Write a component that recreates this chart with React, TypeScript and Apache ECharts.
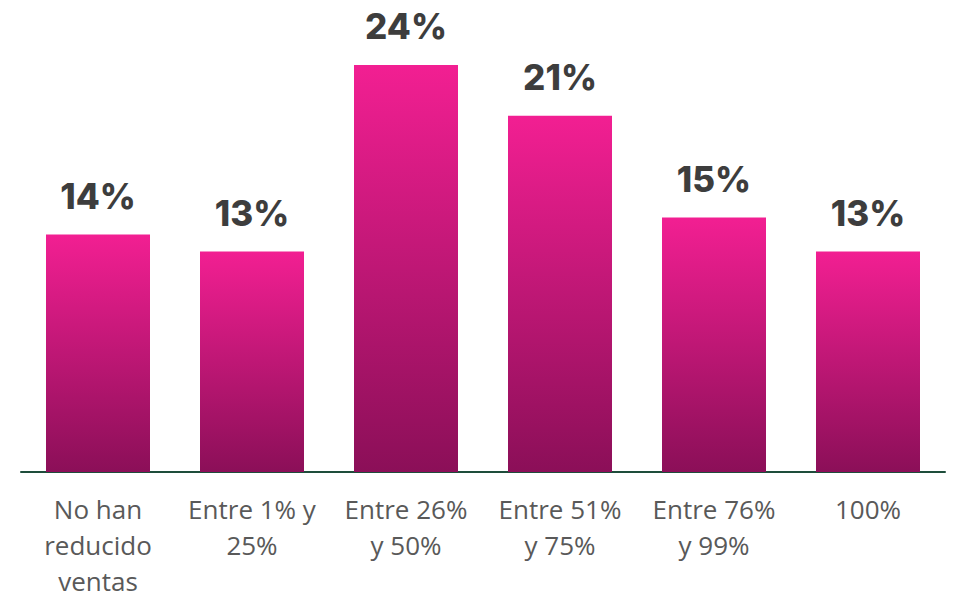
import React, { useEffect, useRef } from "react";
import * as echarts from "echarts";

const categories = [
  "No han\nreducido\nventas",
  "Entre 1% y\n25%",
  "Entre 26%\ny 50%",
  "Entre 51%\ny 75%",
  "Entre 76%\ny 99%",
  "100%",
];
const values = [14, 13, 24, 21, 15, 13];

export default function App() {
  const ref = useRef<HTMLDivElement>(null);
  useEffect(() => {
    if (!ref.current) return;
    const chart = echarts.init(ref.current, undefined, { renderer: "svg" });
    chart.setOption({
      animation: false,
      backgroundColor: "#ffffff",
      grid: {
        left: 21,
        right: 8,
        top: 31,
        bottom: 132,
        containLabel: false,
        outerBoundsMode: "none",
      },
      xAxis: {
        type: "category",
        data: categories,
        axisLine: { show: true, lineStyle: { color: "#1E4D3B", width: 2 } },
        axisTick: { show: false },
        axisLabel: {
          interval: 0,
          margin: 19,
          fontSize: 26,
          lineHeight: 36,
          color: "#595959",
          fontFamily: "'Open Sans', sans-serif",
          verticalAlign: "top",
        },
      },
      yAxis: {
        type: "value",
        min: 0,
        max: 26,
        show: false,
        splitLine: { show: false },
      },
      series: [
        {
          type: "bar",
          data: values,
          barWidth: 104,
          itemStyle: {
            color: new echarts.graphic.LinearGradient(0, 0, 0, 1, [
              { offset: 0, color: "#F21F92" },
              { offset: 1, color: "#8B0F58" },
            ]),
          },
          label: {
            show: true,
            position: "top",
            distance: 21,
            formatter: "{c}%",
            fontSize: 35,
            fontWeight: 800,
            color: "#3D3D3D",
            fontFamily: "Inter, sans-serif",
          },
        },
      ],
    });
    return () => chart.dispose();
  }, []);
  return (
    <div
      ref={ref}
      style={{ position: "fixed", left: 0, top: 0, width: 953, height: 604 }}
    />
  );
}
